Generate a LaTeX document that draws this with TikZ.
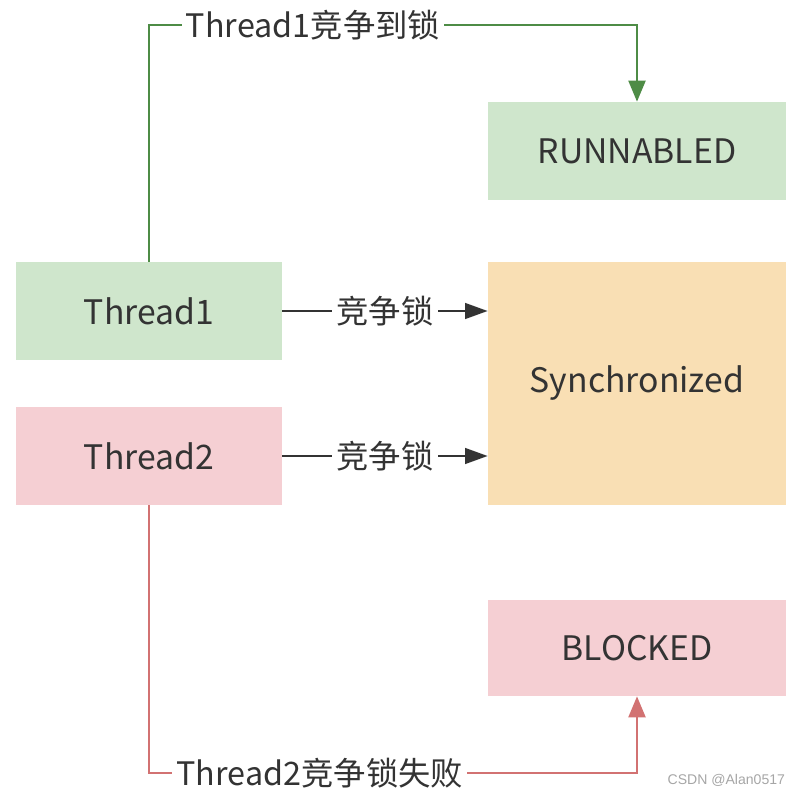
\documentclass[tikz,border=0pt]{standalone}
\usepackage{fontspec}
\setmainfont{Noto Sans CJK SC}
\newfontfamily\wmfont{Liberation Sans}
\usepackage{xcolor}
\usetikzlibrary{arrows.meta}

\definecolor{boxGreen}{HTML}{CFE6CC}
\definecolor{boxRed}{HTML}{F5CFD3}
\definecolor{boxOrange}{HTML}{F9DFB4}
\definecolor{lineGreen}{HTML}{4E8C46}
\definecolor{lineRed}{HTML}{D27272}
\definecolor{textGray}{HTML}{333333}

\begin{document}
\begin{tikzpicture}[
        state/.style={rectangle, draw=none, minimum width=7.45cm, minimum height=2.45cm, text centered, font=\fontsize{24}{28}\selectfont, text=textGray},
        thread/.style={rectangle, draw=none, minimum width=6.65cm, minimum height=2.45cm, text centered, font=\fontsize{24}{28}\selectfont, text=textGray},
        edgeLabel/.style={fill=white, inner xsep=3pt, inner ysep=1pt, font=\fontsize{23}{27}\selectfont, text=textGray},
        arrow/.style={-{Triangle[length=16pt, width=11pt]}, line width=1.9pt},
        okArrow/.style={-{Triangle[length=15pt, width=12pt]}, line width=1.9pt, color=lineGreen},
        failArrow/.style={-{Triangle[length=15pt, width=12pt]}, line width=1.9pt, color=lineRed}
    ]
        \useasboundingbox (0,0) rectangle (20.1,19.85);

        % ========== STATES (Right Column) ==========
        \node[state, fill=boxGreen] (runnabled) at (15.925,16.075) {RUNNABLED};
        \node[state, fill=boxOrange, minimum height=6.075cm] (sync) at (15.925,10.2625) {Synchronized};
        \node[state, fill=boxRed, minimum height=2.4cm] (blocked) at (15.925,3.65) {BLOCKED};

        % ========== THREADS (Left Column) ==========
        \node[thread, fill=boxGreen] (thread1) at (3.725,12.075) {Thread1};
        \node[thread, fill=boxRed] (thread2) at (3.725,8.45) {Thread2};

        % ========== LOCK REQUESTS (Horizontal) ==========
        \draw[arrow, textGray] (thread1.east) -- node[edgeLabel] {竞争锁} (thread1.east -| sync.west);
        \draw[arrow, textGray] (thread2.east) -- node[edgeLabel] {竞争锁} (thread2.east -| sync.west);

        % ========== RESULTS (Around the Outside) ==========
        \coordinate (topLine) at (0,19.225);
        \coordinate (bottomLine) at (0,0.525);
        \draw[okArrow] (thread1.north) |- node[edgeLabel, pos=0.668] {Thread1竞争到锁} (topLine -| runnabled.north) -- (runnabled.north);
        \draw[failArrow] (thread2.south) |- node[edgeLabel, pos=0.675] {Thread2竞争锁失败} (bottomLine -| blocked.south) -- (blocked.south);

        % watermark
        \node[font=\wmfont\fontsize{10}{12}\selectfont, text=gray!70, anchor=east] (mark) at (19.75,0.35) {CSDN @Alan0517};

    \end{tikzpicture}
\end{document}
